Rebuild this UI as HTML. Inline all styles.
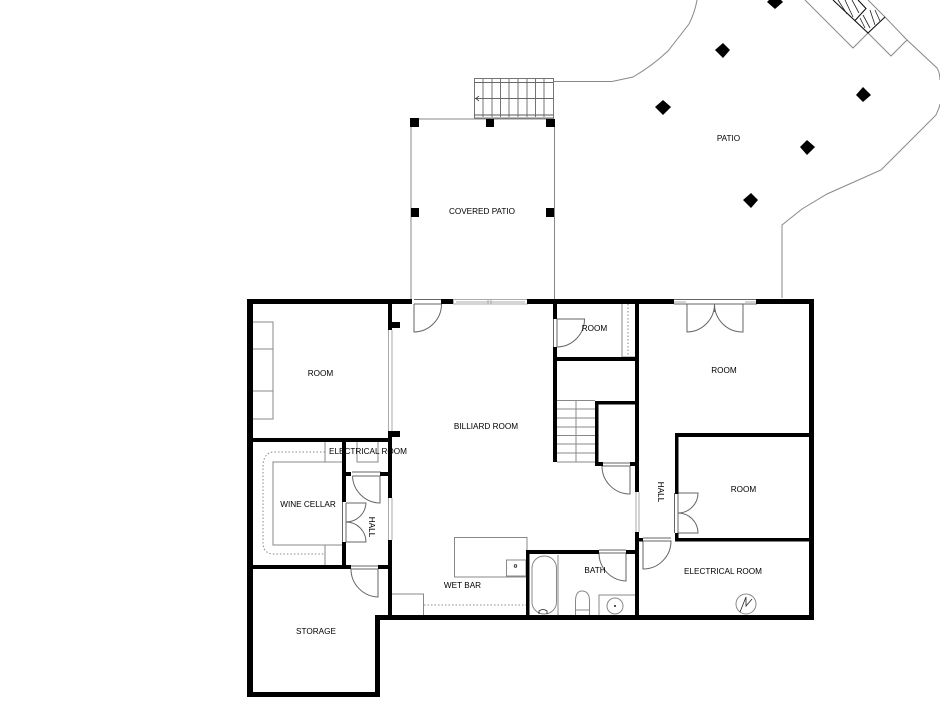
<!DOCTYPE html>
<html><head><meta charset="utf-8"><style>
html,body{margin:0;padding:0;background:#fff}
svg{display:block}
text{font-family:"Liberation Sans",sans-serif;font-size:8.2px;fill:#000}
.t{stroke:#888;stroke-width:1;fill:none}
.d{stroke:#666;stroke-width:1;fill:none}
.k{stroke:#222;stroke-width:.8;fill:none}
.s{stroke:#666;stroke-width:.9;fill:none}
.w{stroke:#aaa;stroke-width:1;fill:none}
.b{stroke:#111;stroke-width:1.1;fill:none}
.dot{stroke:#888;stroke-width:1;fill:none;stroke-dasharray:1.5 2}
</style></head><body>
<svg width="940" height="720" viewBox="0 0 940 720" xmlns="http://www.w3.org/2000/svg">
<!-- patio outline -->
<path class="t" d="M554 81.500H612L633 77Q652 66 668 51L689 24Q695 12 697 0"/>
<path class="t" d="M782 298V225L802 209L827 194L881 170L936 115L939 108L940 104"/>
<path class="t" d="M805 0L853 48L868 33L891 56L907 40L937 68Q940 73 940 80"/>
<path class="t" d="M868 0L885 17L907 40"/>
<!-- upper steps -->
<path class="b" d="M833 0L868 33L885 17M855 20.500L866 8.500L858 0"/>
<path class="k" d="M838 0L847 14M845 0L853 17M852 0L859 13M860 18L865 28M863 15L870 28M870 10L875 25M875 10L880 21"/>
<!-- diamonds -->
<g fill="#000">
<path d="M775-6L783 2L775 9L767 2Z"/>
<path d="M723 43L730 50L723 58L715 50Z"/>
<path d="M663 100L671 107L663 115L655 107Z"/>
<path d="M863 87L871 95L863 102L856 95Z"/>
<path d="M807 140L815 147L807 155L800 147Z"/>
<path d="M751 193L758 200L751 208L743 200Z"/>
</g>
<!-- covered patio -->
<path class="t" d="M411 119H554M411 119V300M554.500 119V300"/>
<g fill="#000">
<rect x="410" y="118" width="9" height="9"/><rect x="486" y="119" width="8" height="8"/><rect x="546" y="119" width="9" height="8"/>
<rect x="411" y="208" width="8" height="9"/><rect x="546" y="208" width="8" height="9"/>
</g>
<!-- patio stairs -->
<rect x="474.500" y="78.500" width="79" height="39.500" class="s"/>
<path class="s" d="M474.500 82.500H553M474.500 98.500H553"/>
<path class="k" d="M474.500 115H553"/>
<path class="s" d="M483 79V117M492 79V117M500.500 79V117M509 79V117M518 79V117M527 79V117M535.500 79V117M544 79V117"/>
<path class="k" d="M479 96L476 98.500L479 101"/>
<!-- furniture left room -->
<path class="t" d="M253 322H273V419H253M253 349H273M253 391H273"/>
<!-- wine cellar -->
<path class="t" d="M342 462H273V545H342M325 440V462M325 545V566"/>
<path class="dot" d="M325 452H274Q264 452 263 465V544Q264 554 274 554H325"/>
<path class="t" d="M357 441V462H378V441"/>
<!-- wet bar -->
<path class="t" d="M527 550V537.500H454.500V577H527"/>
<rect x="506.500" y="560" width="19.500" height="16" class="t"/>
<circle cx="515.500" cy="566" r="1.300" class="k"/>
<path class="t" d="M392 594H423.500V615"/>
<path class="dot" d="M424 605H526"/>
<!-- bath fixtures -->
<rect x="532" y="556" width="24.500" height="58" rx="12" class="t"/>
<path class="t" d="M558 555V615"/>
<path class="t" d="M575.500 615V600Q576 591 582 591Q589 591 589.500 600V615M576 610H589"/>
<path class="t" d="M599 615V595H635"/>
<circle cx="615" cy="606" r="8" class="t"/>
<circle cx="615" cy="606" r="1" fill="#222"/>
<path class="k" d="M539 614V611Q543 608 547 611V614"/>
<!-- closet dotted -->
<path class="t" d="M622 304V357H635"/>
<path class="dot" d="M628 304V357"/>
<!-- stairs interior -->
<path class="t" d="M557 400.500H595M557 409H595M557 418H595M557 427H595M557 435.500H595M557 444H595M557 453H595M557 462H595M576 400V462"/>
<!-- electric symbol -->
<circle cx="746" cy="604" r="10" class="t"/>
<path class="k" d="M740 612L746 597L746 606L752 599"/>
<!-- doors -->
<g class="d">
<path d="M414 299.500H441M414 304H441M414 304V332A28 28 0 0 0 441.500 304"/>
<path d="M553.500 319V347M557 319H584.500A28 28 0 0 1 557 347V319"/>
<path d="M602 463H630M602 466H630V494A28 28 0 0 1 602 466"/>
<path d="M674 299.500H757M674 304H757M687 304V332A28 28 0 0 0 714.500 304M743 304V332A28 28 0 0 1 714.500 304M714.500 304V312"/>
<path d="M352 472H381M352.500 476H380V503A28 28 0 0 1 352.500 476"/>
<path d="M342.500 502V542M346 503H366A20 20 0 0 1 346 522A20 20 0 0 1 366 542H346V503"/>
<path d="M351 566H378M351 569H378V597A28 28 0 0 1 351 569"/>
<path d="M599 550H626M599 553H626V581A28 28 0 0 1 599 553"/>
<path d="M674.500 493V533M678 493H698A20 20 0 0 1 678 513A20 20 0 0 1 698 533H678V493"/>
<path d="M643 538H671M643 541H671A28 28 0 0 1 643 569V541"/>
</g>
<!-- windows -->
<g class="w">
<path d="M388.500 330V431M392 330V431M388.500 498V540M392 498V540M636 492V532M639 492V532"/>
<path d="M453.500 299.500H527.500V304H453.500ZM488 299.500V304M491 299.500V304M456 302H525M674 302H686M745 302H756"/>
</g>
<!-- walls -->
<g fill="#000">
<rect x="247" y="299" width="165" height="5"/>
<rect x="441" y="299" width="12" height="5"/>
<rect x="527" y="299" width="147" height="5"/>
<rect x="756" y="299" width="58" height="5"/>
<rect x="247" y="299" width="6" height="398"/>
<rect x="809" y="299" width="5" height="321"/>
<rect x="247" y="692" width="133" height="5"/>
<rect x="375" y="615" width="5" height="82"/>
<rect x="375" y="615" width="439" height="5"/>
<rect x="388" y="299" width="4" height="31"/>
<rect x="388" y="322" width="12" height="6"/>
<rect x="388" y="431" width="4" height="67"/>
<rect x="388" y="431" width="12" height="6"/>
<rect x="388" y="540" width="4" height="78"/>
<rect x="250" y="438" width="142" height="4"/>
<rect x="342" y="440" width="4" height="62"/>
<rect x="342" y="542" width="4" height="27"/>
<rect x="344" y="472" width="7" height="4"/>
<rect x="380" y="472" width="10" height="4"/>
<rect x="250" y="565" width="101" height="4"/>
<rect x="378" y="565" width="12" height="4"/>
<rect x="553" y="301" width="4" height="18"/>
<rect x="553" y="347" width="4" height="115"/>
<rect x="635" y="301" width="4" height="191"/>
<rect x="635" y="532" width="4" height="86"/>
<rect x="555" y="357" width="82" height="4"/>
<rect x="595" y="401" width="42" height="3.500"/>
<rect x="595" y="401" width="3.500" height="65"/>
<rect x="595" y="462" width="8" height="4"/>
<rect x="630" y="462" width="7" height="4"/>
<rect x="675" y="433" width="137" height="4"/>
<rect x="675" y="433" width="3.500" height="61"/>
<rect x="675" y="533" width="3.500" height="8"/>
<rect x="675" y="538" width="136" height="3.500"/>
<rect x="637" y="538" width="6" height="3.500"/>
<rect x="526" y="550" width="3.500" height="68"/>
<rect x="526" y="550" width="73" height="4"/>
<rect x="626" y="550" width="11" height="4"/>
</g>
<!-- labels -->
<text x="482" y="214" text-anchor="middle">COVERED PATIO</text>
<text x="728.500" y="141" text-anchor="middle">PATIO</text>
<text x="320.500" y="376" text-anchor="middle">ROOM</text>
<text x="486" y="429" text-anchor="middle">BILLIARD ROOM</text>
<text x="368" y="454" text-anchor="middle">ELECTRICAL ROOM</text>
<text x="308" y="507" text-anchor="middle">WINE CELLAR</text>
<text x="316" y="634" text-anchor="middle">STORAGE</text>
<text x="462.500" y="588" text-anchor="middle">WET BAR</text>
<text x="595" y="573" text-anchor="middle">BATH</text>
<text x="594.500" y="331" text-anchor="middle">ROOM</text>
<text x="724" y="373" text-anchor="middle">ROOM</text>
<text x="743.500" y="492" text-anchor="middle">ROOM</text>
<text x="723" y="574" text-anchor="middle">ELECTRICAL ROOM</text>
<text transform="translate(369 527) rotate(90)" x="0" y="0" text-anchor="middle">HALL</text>
<text transform="translate(658 492) rotate(90)" x="0" y="0" text-anchor="middle">HALL</text>
</svg>
</body></html>
